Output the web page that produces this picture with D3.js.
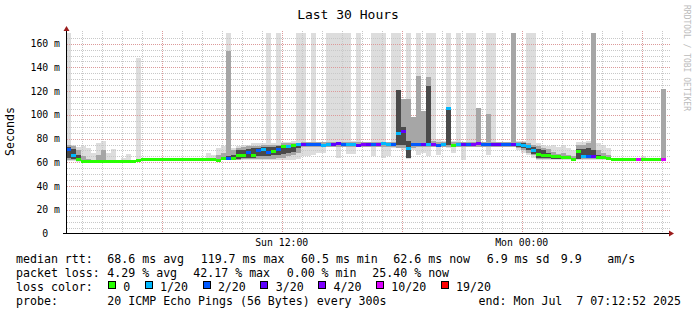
<!DOCTYPE html>
<html>
<head>
<meta charset="utf-8">
<script src="https://cdn.jsdelivr.net/npm/d3@7"></script>
<style>
body{margin:0;background:#fff}
svg text{font-family:"DejaVu Sans Mono",monospace;white-space:pre}
</style>
</head>
<body>
<svg id="chart" width="697" height="315"></svg>
<script>
// 15 minute columns, Sun 01:12:52 -> Mon 07:12:52
let median = [
 70.5,66,62,60.5,60.5,60.5,61,60.5,60.5,60.5,
 60.5,60.5,60.5,60.5,61.5,62.5,62.5,62.5,62.5,62.5,
 62.5,62.5,62.5,62.5,62.5,62.5,62.5,62.5,62.5,62.5,
 61.8,63.5,63.5,63.5,66,66,68,66,70,71,
 68,69,71,73,73.5,74,75,75,75,75,
 75,74.5,75,75,75.5,75,75,75,74.5,75,
 75,75,75,75.5,75,75,84,86,72,75,
 75,75,75,75,74.5,75,105,74.5,75,75,
 75,75,75.5,75,75,75,75,75,75,75,
 75,74.5,73.5,70,67,66,65.5,64.5,64.5,64,
 64,62.5,69,65,65,65,64,64,63.5,62.5,
 62.5,62.5,62.5,62.5,62.5,62.5,62.5,62.5,62.5,62.5];
let loss = [
 2,1,0,0,0,0,0,0,0,0,
 0,0,0,0,0,0,0,0,0,0,
 0,0,0,0,0,0,0,0,0,0,
 0,0,2,0,0,0,2,0,2,1,
 2,0,2,0,1,0,1,3,2,2,
 2,1,1,3,3,2,1,1,3,4,
 3,2,4,1,1,2,1,3,1,2,
 2,3,1,4,2,1,1,0,1,3,
 2,4,4,2,2,3,3,2,2,3,
 1,1,1,1,0,0,0,0,0,0,
 0,0,0,1,2,3,0,0,0,0,
 0,0,0,0,10,0,0,0,0,10];
let pingMin = [
 61,61,60,60,60,60,60,60,60,60,
 60,60,60,60,60,62,62,62,62,62,
 62,62,62,62,62,62,62,62,62,62,
 61,62,62,62,62,62,62,62,62,62,
 62,62,62,62,62,62,63,65,65,66,
 68,68,73,73,64,73,67,67,73,73,
 73,65,73,64,65,72,72,70,63,70,
 66,68,65,73,66,73,72,68,73,62,
 73,73,73,73,66,73,73,73,73,73,
 70,68,66,64,62,62,62,62,62,62,
 62,61,62,62,62,62,62,62,62,62,
 62,62,62,62,62,62,62,62,62,62];
let pingMax = [
 170,75,73,73.5,72,68,76,78,68,71,
 62,64,67,62,148,63,63,63,63,63,
 63,63,63,63,63,63,63,63,68,66,
 72,74,170,72,74,75,75,76,76,76,
 170,76,170,77,77,78,170,170,77,170,
 77,77,170,170,170,170,170,78,170,77,
 77,170,170,170,77,170,170,113,170,98,
 170,103,170,170,80,78,170,78,170,77,
 170,170,106,77,170,170,77,77,77,170,
 78,78,170,170,76,75,74,75,73,75,
 72,70,77,77,78,170,76,75,72,63,
 63,63,63,63,63,65,63,63,63,122];
let midLo = [
 62,62,61,60,60,60,60,60,60,60,
 60,60,60,60,60,62,62,62,62,62,
 62,62,62,62,62,62,62,62,62,62,
 61,62,62,62,62,63,63,63,63,63,
 63,63,64,64,65,66,68,73,73,73,
 73,73,73,73,73,73,73,73,73,73,
 73,73,73,73,73,73,72,72,64,72,
 73,73,73,73,73,73,73,73,73,73,
 73,73,73,73,73,73,73,73,73,73,
 72,70,68,66,63,63,63,63,63,63,
 63,61,63,63,63,63,63,63,63,62,
 62,62,62,62,62,62,62,62,62,62];
let midHi = [
 75,74,70,65,63,62,66,70,61,61,
 61,61,61,61,62,63,63,63,63,63,
 63,63,63,63,63,63,63,63,63,63,
 66,68,154,70,72,73,74,74,74,75,
 75,75,75,76,76,76,76,77,77,77,
 77,77,77,77,77,77,77,77,77,77,
 77,77,77,77,77,77,100,113,113,98,
 133,103,132,78,77,77,106,77,77,77,
 77,77,106,77,101,77,77,77,77,170,
 77,77,76,75,74,72,71,69,67,68,
 66,65,75,75,76,170,70,68,66,63,
 63,63,63,63,63,63,63,63,63,122];
let coreLo = [
 64,63,61,60.5,60.5,60.5,61,60.5,60.5,60.5,
 60.5,60.5,60.5,60.5,61.5,62.5,62.5,62.5,62.5,62.5,
 62.5,62.5,62.5,62.5,62.5,62.5,62.5,62.5,62.5,62.5,
 61.8,63.5,62,63,63,64,64,64,65,65,
 65,66,66,67,68,69,72,75,75,75,
 75,75,75,75,75,75,75,75,75,75,
 75,75,75,75,75,75,75,75,64,75,
 75,75,75,75,75,75,75,74.5,75,75,
 75,75,75,75,75,75,75,75,75,75,
 73,72,70,67,64,64,63.5,63,63,64,
 64,62.5,63,64,64,64,63,64,63.5,62.5,
 62.5,62.5,62.5,62.5,62.5,62.5,62.5,62.5,62.5,62.5];
let coreHi = [
 73,71,66,60.5,60.5,60.5,61,60.5,60.5,60.5,
 60.5,60.5,60.5,60.5,61.5,62.5,62.5,62.5,62.5,62.5,
 62.5,62.5,62.5,62.5,62.5,62.5,62.5,62.5,62.5,62.5,
 61.8,63.5,65,66,70,70,71,72,72,73,
 73,73,74,75,75,75,76,75,75,75,
 75,75,75,75,75,75,75,75,75,75,
 75,75,75,75,75,75,121,90,78,75,
 75,75,124,75,75,75,106,74.5,75,75,
 75,75,75,75,75,75,75,75,75,75,
 76,76,75,73,71,70,68,66,65,64,
 64,62.5,71,71,72,70,66,64,63.5,62.5,
 62.5,62.5,62.5,62.5,62.5,62.5,62.5,62.5,62.5,62.5];

let yTicks = [0, 20, 40, 60, 80, 100, 120, 140, 160];
let lossSteps = [0, 1, 2, 3, 4, 10, 19];
let lossLabels = ["0", "1/20", "2/20", "3/20", "4/20", "10/20", "19/20"];
let rttLegend = ["median rtt:", "68.6 ms avg", "119.7 ms max", "60.5 ms min", "62.6 ms now", "6.9 ms sd", "9.9", "am/s"];
let lossLegend = ["packet loss:", "4.29 % avg", "42.17 % max", "0.00 % min", "25.40 % now"];
let probeLegend = ["probe:", "20 ICMP Echo Pings (56 Bytes) every 300s"];
let endLabel = "end: Mon Jul  7 07:12:52 2025";

let lossColors = ["#26ff00", "#00b8ff", "#0059ff", "#5e00ff", "#7e00ff", "#dd00ff", "#ff0000"];
let lossColor = d3.scaleOrdinal().domain(lossSteps).range(lossColors);

let startTime = new Date(2025, 6, 6, 1, 12, 52);
let endTime = new Date(2025, 6, 7, 7, 12, 52);

let svg = d3.select("#chart");
let x = d3.scaleTime().domain([startTime, endTime]).range([66, 666]);
let y = d3.scaleLinear().domain([0, 168.6]).range([233.5, 33.5]);

svg.append("clipPath").attr("id", "plotClip").append("rect")
  .attr("x", 66).attr("y", 33).attr("width", 601).attr("height", 201);

let colStart = i => x(d3.timeMinute.offset(startTime, i * 15));
let colEnd = i => x(d3.timeMinute.offset(startTime, (i + 1) * 15));

let plot = svg.append("g").attr("clip-path", "url(#plotClip)").attr("shape-rendering", "crispEdges");
function smoke(lo, hi, color) {
  plot.append("g").selectAll("rect")
    .data(d3.range(median.length).filter(i => hi[i] > lo[i]))
    .enter().append("rect")
    .attr("x", i => colStart(i))
    .attr("width", i => colEnd(i) - colStart(i))
    .attr("y", i => y(hi[i]))
    .attr("height", i => y(lo[i]) - y(hi[i]))
    .attr("fill", color);
}

// outer smoke, then grid, then the denser smoke
smoke(pingMin, pingMax, "#dddddd");

let grid = svg.append("g").attr("fill", "none");
let hours = d3.timeHour.range(startTime, endTime);
grid.selectAll("line.vx").data(hours).enter().append("line")
  .attr("x1", d => Math.round(x(d)) + 0.5).attr("x2", d => Math.round(x(d)) + 0.5)
  .attr("y1", 31).attr("y2", 233)
  .attr("stroke", d => d.getHours() % 6 == 0 ? "#dc9a9a" : "#c8c8c8")
  .attr("stroke-dasharray", "1,1");
let minorY = d3.range(5, 166, 5);
grid.selectAll("line.hy").data(minorY).enter().append("line")
  .attr("x1", 67).attr("x2", 670)
  .attr("y1", d => Math.round(y(d)) + 0.5).attr("y2", d => Math.round(y(d)) + 0.5)
  .attr("stroke", d => d % 20 == 0 ? "#dc9a9a" : "#c8c8c8")
  .attr("stroke-dasharray", "1,1");

plot = svg.append("g").attr("clip-path", "url(#plotClip)").attr("shape-rendering", "crispEdges");
smoke(midLo, midHi, "#a6a6a6");
smoke(coreLo, coreHi, "#4a4a4a");

// median, coloured by loss
svg.append("g").attr("clip-path", "url(#plotClip)").attr("shape-rendering", "crispEdges")
  .selectAll("rect").data(median).enter().append("rect")
  .attr("x", (d, i) => colStart(i))
  .attr("width", (d, i) => colEnd(i) - colStart(i))
  .attr("y", d => y(d) - 1.5)
  .attr("height", 3)
  .attr("fill", (d, i) => lossColor(loss[i]));

// axes
svg.append("line").attr("x1", 66.5).attr("x2", 66.5).attr("y1", 31).attr("y2", 234).attr("stroke", "#000");
svg.append("line").attr("x1", 63).attr("x2", 670).attr("y1", 233.5).attr("y2", 233.5).attr("stroke", "#000");
svg.append("path").attr("d", "M63.5,31 L66.5,26 L69.5,31 Z").attr("fill", "#9b1c1c");
svg.append("path").attr("d", "M669,230.5 L674,233.5 L669,236.5 Z").attr("fill", "#9b1c1c");

svg.append("g").selectAll("text").data(yTicks).enter().append("text")
  .attr("x", 60).attr("y", d => y(d) + 3.5)
  .attr("text-anchor", "end").attr("font-size", "9.8px").attr("fill", "#000")
  .text(d => d == 0 ? "0  " : d + " m");

let fmt = d3.timeFormat("%a %H:%M");
svg.append("g").selectAll("text").data(d3.timeHour.every(12).range(startTime, endTime)).enter().append("text")
  .attr("x", d => x(d)).attr("y", 246)
  .attr("text-anchor", "middle").attr("font-size", "9.8px").attr("fill", "#000")
  .text(d => fmt(d));

// titles
svg.append("text").attr("x", 348).attr("y", 18.5).attr("text-anchor", "middle")
  .attr("font-size", "13px").text("Last 30 Hours");
svg.append("text").attr("transform", "translate(14,131.5) rotate(-90)").attr("text-anchor", "middle")
  .attr("font-size", "11.6px").text("Seconds");
svg.append("text").attr("transform", "translate(684,5) rotate(90)")
  .attr("font-size", "8px").attr("fill", "#bbbbbb").text("RRDTOOL / TOBI OETIKER");

// legend
let legend = svg.append("g").attr("font-size", "11.6px").attr("fill", "#000");
let rttX = [16, 107.3, 200.7, 301, 393.3, 486.7, 560.7, 607.3];
let lossX = [16, 107.3, 193.3, 286.7, 372.3];
rttLegend.forEach((t, i) => legend.append("text").attr("x", rttX[i]).attr("y", 263.3).text(t));
lossLegend.forEach((t, i) => legend.append("text").attr("x", lossX[i]).attr("y", 277.3).text(t));
legend.append("text").attr("x", 16).attr("y", 291).text("loss color:");
let bx = 108.5;
lossLabels.forEach((t, i) => {
  legend.append("rect").attr("x", bx).attr("y", 281.5).attr("width", 7).attr("height", 7)
    .attr("fill", lossColors[i]).attr("stroke", "#000").attr("shape-rendering", "crispEdges");
  legend.append("text").attr("x", bx + 14.8).attr("y", 291).text(t);
  bx = bx + 14.8 + t.length * 7 + 15;
});
legend.append("text").attr("x", 16).attr("y", 305).text(probeLegend[0]);
legend.append("text").attr("x", 107.3).attr("y", 305).text(probeLegend[1]);
legend.append("text").attr("x", 681).attr("y", 305).attr("text-anchor", "end").text(endLabel);
</script>
</body>
</html>
